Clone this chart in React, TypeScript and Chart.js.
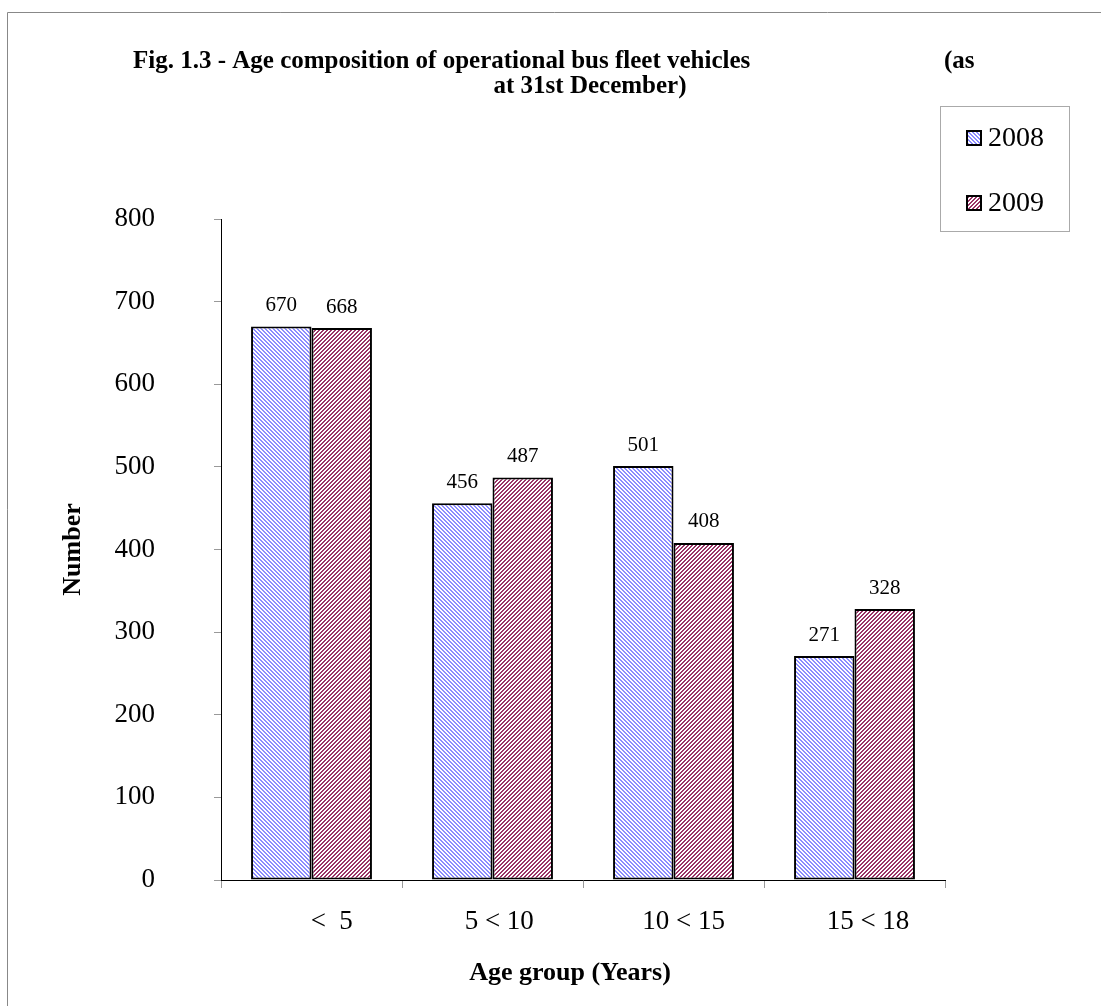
import React, { useEffect, useRef } from "react";
import { Chart, registerables } from "chart.js";

Chart.register(...registerables);

const categories = ["      <  5", "  5 < 10", "   10 < 15", "    15 < 18"];
const seriesNames = ["2008", "2009"];
const values2008 = [670, 456, 501, 271];
const values2009 = [668, 487, 408, 328];
const yTicksMax = 800;
const yTickStep = 100;
const titleLine1 = "Fig. 1.3 - Age composition of operational bus fleet vehicles";
const titleTail = "(as";
const titleLine2 = "at 31st December)";
const xTitle = "Age group (Years)";
const yTitle = "Number";

const SERIF = "'Liberation Serif', 'Times New Roman', serif";

function makePattern(color: string, dir: "down" | "up"): CanvasPattern | string {
  const c = document.createElement("canvas");
  c.width = 8;
  c.height = 8;
  const g = c.getContext("2d");
  if (!g) return color;
  g.fillStyle = "#ffffff";
  g.fillRect(0, 0, 8, 8);
  g.fillStyle = color;
  for (let y = 0; y < 8; y++) {
    for (let x = 0; x < 8; x++) {
      const k = dir === "down" ? (((x - y) % 4) + 4) % 4 : (x + y) % 4;
      if (k < 2) g.fillRect(x, y, 1, 1);
    }
  }
  const p = g.createPattern(c, "repeat");
  return p || color;
}

export default function App() {
  const ref = useRef<HTMLCanvasElement | null>(null);

  useEffect(() => {
    if (!ref.current) return;
    const p2008 = makePattern("#8c8cff", "down");
    const p2009 = makePattern("#993366", "up");

    const decor = {
      id: "decor",
      beforeDraw(chart: any) {
        const ctx = chart.ctx;
        ctx.save();
        ctx.fillStyle = "#ffffff";
        ctx.fillRect(0, 0, chart.width, chart.height);
        ctx.strokeStyle = "#888888";
        ctx.lineWidth = 1;
        ctx.beginPath();
        ctx.moveTo(7.5, chart.height);
        ctx.lineTo(7.5, 12.5);
        ctx.lineTo(chart.width, 12.5);
        ctx.stroke();
        ctx.restore();
      },
      afterDraw(chart: any) {
        const ctx = chart.ctx;
        ctx.save();
        // title
        ctx.fillStyle = "#000000";
        ctx.font = `bold 25px ${SERIF}`;
        ctx.textBaseline = "middle";
        ctx.textAlign = "left";
        ctx.fillText(titleLine1, 133, 62);
        ctx.fillText(titleTail, 944, 62);
        ctx.textAlign = "center";
        ctx.fillText(titleLine2, 590, 87);
        // x axis title
        ctx.font = `bold 26px ${SERIF}`;
        ctx.fillText(xTitle, 570, 973);
        // legend
        ctx.strokeStyle = "#aaaaaa";
        ctx.lineWidth = 1;
        ctx.strokeRect(940.5, 106.5, 129, 125);
        const fills = [p2008, p2009];
        const ys = [138, 203];
        ctx.font = `28px ${SERIF}`;
        ctx.textAlign = "left";
        seriesNames.forEach((name, i) => {
          const cy = ys[i];
          ctx.fillStyle = fills[i] as any;
          ctx.fillRect(967, cy - 7, 14, 14);
          ctx.strokeStyle = "#000000";
          ctx.lineWidth = 2;
          ctx.strokeRect(967, cy - 7, 14, 14);
          ctx.fillStyle = "#000000";
          ctx.fillText(name, 988, cy + 1);
        });
        ctx.restore();
      },
      afterDatasetsDraw(chart: any) {
        const ctx = chart.ctx;
        ctx.save();
        ctx.fillStyle = "#000000";
        ctx.font = `21px ${SERIF}`;
        ctx.textAlign = "center";
        ctx.textBaseline = "middle";
        chart.data.datasets.forEach((ds: any, di: number) => {
          const meta = chart.getDatasetMeta(di);
          meta.data.forEach((el: any, i: number) => {
            ctx.fillText(String(ds.data[i]), el.x, el.y - 21);
          });
        });
        ctx.restore();
      },
    };

    const chart = new Chart(ref.current, {
      type: "bar",
      data: {
        labels: categories,
        datasets: [
          {
            label: seriesNames[0],
            data: values2008,
            backgroundColor: p2008 as any,
            borderColor: "#000000",
            borderWidth: 2,
            borderSkipped: false,
          },
          {
            label: seriesNames[1],
            data: values2009,
            backgroundColor: p2009 as any,
            borderColor: "#000000",
            borderWidth: 2,
            borderSkipped: false,
          },
        ],
      },
      options: {
        responsive: false,
        animation: false,
        devicePixelRatio: 1,
        layout: { padding: { left: 0, top: 219, right: 156, bottom: 0 } },
        datasets: { bar: { categoryPercentage: 0.668, barPercentage: 1 } },
        plugins: {
          legend: { display: false },
          title: { display: false },
          tooltip: { enabled: false },
        },
        scales: {
          x: {
            afterFit(scale: any) {
              scale.height = 126;
            },
            grid: {
              drawOnChartArea: false,
              drawTicks: true,
              tickLength: 8,
              color: "#999999",
              offset: true,
            },
            border: { color: "#000000", width: 1 },
            ticks: {
              color: "#000000",
              font: { family: SERIF, size: 27 },
              padding: 18,
              maxRotation: 0,
              autoSkip: false,
            },
            title: { display: false },
          },
          y: {
            min: 0,
            max: yTicksMax,
            afterFit(scale: any) {
              scale.width = 221;
            },
            grid: {
              drawOnChartArea: false,
              drawTicks: true,
              tickLength: 7,
              color: "#999999",
            },
            border: { color: "#000000", width: 1 },
            ticks: {
              stepSize: yTickStep,
              color: "#000000",
              font: { family: SERIF, size: 27 },
              padding: 59,
            },
            title: {
              display: true,
              text: yTitle,
              color: "#000000",
              font: { family: SERIF, size: 26, weight: "bold" },
              padding: { top: 58, bottom: 0 },
            },
          },
        },
      },
      plugins: [decor],
    });
    return () => chart.destroy();
  }, []);

  return (
    <div style={{ position: "fixed", left: 0, top: 0, width: 1101, height: 1006, background: "#fff" }}>
      <canvas ref={ref} width={1101} height={1006} style={{ width: 1101, height: 1006, display: "block" }} />
    </div>
  );
}
